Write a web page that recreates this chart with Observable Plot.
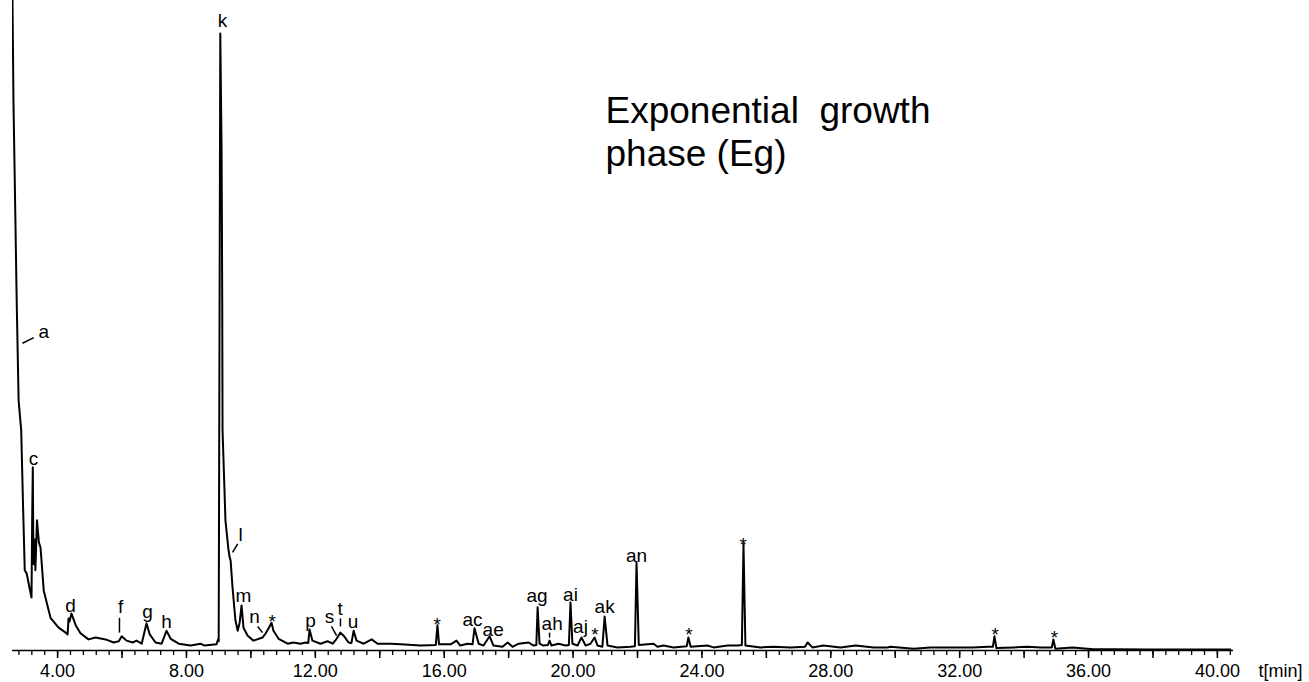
<!DOCTYPE html>
<html>
<head>
<meta charset="utf-8">
<script src="https://cdn.jsdelivr.net/npm/d3@7"></script>
<script src="https://cdn.jsdelivr.net/npm/@observablehq/plot@0.6"></script>
<style>
  html, body { margin: 0; padding: 0; background: white; }
  #chart svg { display: block; }
</style>
</head>
<body>
<div id="chart"></div>
<script>
// Retention time (min) and detector signal (relative, largest peak k = 100)
const times = [2.58, 2.60, 2.63, 2.68, 2.73, 2.79, 2.87, 2.93, 2.98, 3.04, 3.10, 3.19, 3.21, 3.23, 3.25, 3.29, 3.31, 3.36, 3.42, 3.47, 3.57, 3.78, 4.03, 4.25, 4.31, 4.34, 4.37, 4.43, 4.56, 4.71, 4.96, 5.18, 5.49, 5.74, 5.90, 5.99, 6.14, 6.33, 6.45, 6.61, 6.76, 6.86, 7.04, 7.23, 7.38, 7.51, 7.76, 8.13, 8.44, 8.56, 8.93, 8.99, 9.00, 9.05, 9.09, 9.11, 9.12, 9.21, 9.30, 9.34, 9.37, 9.43, 9.52, 9.59, 9.65, 9.71, 9.77, 9.90, 10.08, 10.36, 10.46, 10.55, 10.64, 10.70, 10.86, 11.14, 11.32, 11.54, 11.70, 11.78, 11.82, 11.91, 12.16, 12.38, 12.54, 12.66, 12.78, 12.88, 13.03, 13.12, 13.19, 13.28, 13.50, 13.75, 13.93, 14.34, 14.65, 15.27, 15.74, 15.79, 15.84, 16.20, 16.38, 16.50, 16.72, 16.88, 16.94, 17.07, 17.22, 17.41, 17.53, 17.81, 17.97, 18.12, 18.31, 18.62, 18.77, 18.86, 18.90, 18.96, 19.08, 19.22, 19.27, 19.33, 19.55, 19.77, 19.87, 19.92, 19.98, 20.14, 20.26, 20.39, 20.54, 20.67, 20.76, 20.91, 20.98, 21.07, 21.38, 21.78, 21.92, 21.97, 22.04, 22.50, 22.62, 22.81, 23.12, 23.53, 23.58, 23.65, 24.17, 24.36, 24.80, 25.10, 25.24, 25.29, 25.35, 25.82, 26.22, 26.75, 27.20, 27.28, 27.43, 27.77, 28.30, 28.77, 29.33, 29.76, 29.85, 30.57, 31.09, 31.72, 32.40, 32.90, 33.03, 33.08, 33.14, 33.67, 34.11, 34.51, 34.86, 34.91, 34.97, 35.50, 36.15, 36.77, 37.83, 38.85, 39.88, 40.40];
const signal = [115, 105, 89, 73, 56.7, 40.5, 35.7, 23, 13.0, 12.5, 10.9, 8.6, 21, 29.7, 14, 18, 13, 21.1, 17.5, 16.7, 9.7, 5.3, 3.7, 2.9, 2.6, 5.2, 4.7, 6.0, 4.1, 2.8, 1.8, 2.1, 1.8, 1.3, 1.5, 2.3, 1.6, 1.3, 1.6, 1.1, 4.4, 2.6, 1.3, 1.1, 3.2, 1.9, 1.1, 0.8, 1.1, 0.8, 1.0, 1.9, 1.5, 100, 81, 56.7, 35.7, 21.1, 16.5, 15.1, 14.6, 10.2, 4.9, 3.2, 4.5, 7.3, 3.7, 2.4, 1.6, 2.1, 2.8, 3.6, 4.5, 3.2, 1.9, 1.1, 1.3, 1.1, 1.3, 1.2, 3.4, 1.6, 1.1, 1.5, 1.1, 1.9, 2.9, 2.4, 1.3, 1.2, 3.2, 1.6, 1.1, 1.8, 1.1, 1.1, 1.0, 0.8, 0.9, 4.1, 1.0, 1.0, 1.6, 0.8, 1.1, 1.0, 3.6, 1.1, 0.8, 2.3, 0.8, 0.6, 1.3, 0.6, 1.1, 1.3, 0.8, 0.9, 7.0, 1.1, 0.8, 0.9, 1.6, 0.8, 1.1, 0.8, 0.9, 7.8, 1.1, 0.8, 2.1, 0.8, 1.1, 2.1, 0.8, 0.6, 5.5, 0.8, 0.5, 0.6, 0.7, 14.3, 0.9, 1.1, 0.6, 0.8, 0.5, 0.7, 2.1, 0.6, 0.8, 0.5, 0.8, 0.8, 0.9, 17.3, 0.8, 0.5, 0.6, 0.5, 0.6, 1.3, 0.5, 0.8, 0.5, 0.8, 0.5, 0.5, 0.6, 0.3, 0.5, 0.5, 0.5, 0.6, 0.6, 2.3, 0.4, 0.5, 0.6, 0.5, 0.5, 1.8, 0.3, 0.5, 0.2, 0.2, 0.15, 0.15, 0.15, 0.15];

// Peak labels
const peakLabels  = ["a", "c", "d", "f", "g", "h", "k", "l", "m", "n", "*", "p", "s", "t", "u", "*", "ac", "ae", "ag", "ah", "ai", "aj", "*", "ak", "an", "*", "*", "*", "*"];
const peakTimes   = [3.57, 3.25, 4.40, 5.96, 6.79, 7.38, 9.12, 9.68, 9.77, 10.11, 10.66, 11.85, 12.44, 12.77, 13.17, 15.78, 16.88, 17.52, 18.88, 19.35, 19.92, 20.23, 20.68, 20.98, 21.97, 23.60, 25.28, 33.10, 34.94];
const peakHeights = [50.7, 30.0, 6.2, 6.0, 5.3, 3.7, 101.0, 17.8, 7.8, 4.5, 3.6, 3.8, 4.5, 5.7, 3.7, 3.2, 3.9, 2.4, 7.8, 3.4, 8.1, 2.9, 1.5, 6.0, 14.4, 1.5, 16.2, 1.5, 1.0];

// Leader lines from labels to peaks
const leaderT1 = [2.91, 5.92, 9.43, 10.21, 12.50, 12.78, 19.27];
const leaderV1 = [49.8, 5.3, 15.9, 3.9, 3.9, 5.2, 2.9];
const leaderT2 = [3.26, 5.92, 9.59, 10.36, 12.66, 12.78, 19.27];
const leaderV2 = [50.7, 2.9, 17.3, 2.9, 2.4, 3.9, 2.1];

// Axis ticks
const majorTicks = [4, 6, 8, 10, 12, 14, 16, 18, 20, 22, 24, 26, 28, 30, 32, 34, 36, 38, 40];
const labelledTicks = [4, 8, 12, 16, 20, 24, 28, 32, 36, 40];
const minorTicks = d3.range(2.8, 40.5, 0.4).map(d => Math.round(d * 10) / 10);

const titleText = "Exponential\u00a0 growth\nphase (Eg)";
const axisUnit = "t[min]";

const trace = times.map((t, i) => ({t, v: signal[i]}));
const peaks = peakLabels.map((label, i) => ({label, t: peakTimes[i], v: peakHeights[i]}));
const leaders = leaderT1.map((t1, i) => ({t1, v1: leaderV1[i], t2: leaderT2[i], v2: leaderV2[i]}));

const font = "'Liberation Sans', Arial, Helvetica, sans-serif";
const fmt = d3.format(".2f");

const chart = Plot.plot({
  width: 1309,
  height: 682,
  marginLeft: 12,
  marginRight: 76,
  marginTop: 0,
  marginBottom: 32,
  x: {domain: [2.6, 40.5]},
  y: {domain: [0, 105.35], axis: null},
  style: {fontFamily: font, background: "white", color: "black", overflow: "visible"},
  marks: [
    Plot.line(trace, {x: "t", y: "v", stroke: "black", strokeWidth: 2, clip: true, curve: "linear", strokeLinejoin: "round"}),
    Plot.link(leaders, {x1: "t1", y1: "v1", x2: "t2", y2: "v2", stroke: "black", strokeWidth: 1.5}),
    Plot.text(peaks, {x: "t", y: "v", text: "label", lineAnchor: "bottom", textAnchor: "middle", fontSize: 19, fill: "black"}),
    Plot.ruleY([0], {stroke: "black", strokeWidth: 1.6}),
    Plot.axisX(minorTicks, {tickSize: 5, fill: "none", label: null, stroke: "black", strokeWidth: 1.3}),
    Plot.axisX(majorTicks, {tickSize: 8, tickPadding: 6, label: null, stroke: "black", strokeWidth: 1.5, fill: "black", fontSize: 18,
      tickFormat: d => labelledTicks.includes(d) ? fmt(d) : ""}),
    Plot.text([axisUnit], {frameAnchor: "bottom-right", dx: 25, dy: 14, textAnchor: "start", lineAnchor: "top", fontSize: 18, fill: "black"}),
    Plot.text([titleText], {frameAnchor: "top-left", dx: 593, dy: 92, textAnchor: "start", lineAnchor: "top", fontSize: 37, lineHeight: 1.16, fill: "black"})
  ]
});
document.getElementById("chart").appendChild(chart);
</script>
</body>
</html>
